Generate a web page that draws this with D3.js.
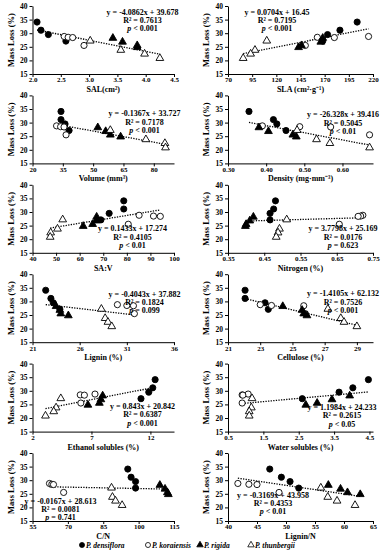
<!DOCTYPE html>
<html>
<head>
<meta charset="utf-8">
<script src="https://cdn.jsdelivr.net/npm/d3@7"></script>
<style>
body { margin: 0; background: #fff; }
svg text { font-family: "Liberation Serif", "Times New Roman", serif; font-weight: bold; fill: #000; }
</style>
</head>
<body>
<svg id="chart" width="390" height="550"></svg>
<script>
// species order for every value array: 4 x densiflora, 4 x koraiensis, 4 x rigida, 4 x thunbergii
var species = ["P. densiflora", "P. koraiensis", "P. rigida", "P. thunbergii"];
var massLoss = [34.1, 31.1, 29.5, 27.1, 28.8, 28.5, 28.4, 25.5, 28.2, 26.8, 25.5, 24.8, 27.2, 23.8, 22.4, 20.8];

var sal = [2.08, 2.15, 2.28, 2.59, 2.56, 2.63, 2.71, 2.91, 3.42, 3.59, 3.85, 3.85, 3.02, 3.56, 3.98, 4.25];
var sla = [203.6, 185.8, 173, 168, 215.4, 162.4, 180, 150, 168, 166, 146, 143, 110.1, 97.9, 93.4, 85.7];
var volume = [34.1, 34.1, 36.1, 38.1, 31.9, 33.9, 35.6, 36.6, 52.3, 56.2, 58.5, 63.6, 58.5, 76.1, 85.5, 85.8];
var density = [0.355, 0.419, 0.428, 0.452, 0.39, 0.488, 0.569, 0.671, 0.381, 0.406, 0.47, 0.479, 0.481, 0.532, 0.567, 0.671];
var saV = [78.7, 78.7, 72.5, 69, 85.2, 91.3, 94.2, 80.6, 67.2, 67, 65.5, 61.5, 52.8, 50.6, 47.7, 47.5];
var nitrogen = [0.481, 0.476, 0.466, 0.466, 0.722, 0.716, 0.709, 0.657, 0.42, 0.41, 0.40, 0.398, 0.512, 0.492, 0.488, 0.483];
var lignin = [22.4, 22.95, 23.2, 23.9, 30.0, 31.0, 31.7, 31.8, 23.5, 23.9, 24.0, 24.8, 28.3, 28.7, 29.0, 29.4];
var cellulose = [22.06, 22.06, 23.3, 23.5, 23.0, 23.7, 25.7, 25.8, 24.4, 25.6, 25.7, 25.9, 27.2, 28.0, 28.2, 29.0];
var ethanol = [12.4, 12.2, 11.86, 11.2, 7.3, 6.05, 6.4, 6.1, 7.95, 7.8, 7.67, 6.7, 4.4, 4.0, 3.8, 3.1];
var water = [4.47, 4.03, 3.64, 2.6, 1.07, 0.9, 0.92, 0.9, 3.94, 3.44, 3.02, 2.7, 1.18, 1.16, 1.1, 1.1];
var cn = [95.4, 96.8, 98.7, 98.7, 62.2, 63.2, 63.9, 68.2, 109, 111.2, 112.2, 112.6, 88.5, 88.9, 90.2, 93];
var ligninN = [47.2, 49.2, 50.7, 52.2, 41.7, 43.6, 45.0, 48.8, 57.3, 59.4, 60.6, 62.8, 56.0, 57.2, 58.8, 61.9];

var panelValues = [sal, sla, volume, density, saV, nitrogen, lignin, cellulose, ethanol, water, cn, ligninN];
var xTitles = ["SAL(cm\u00b2)", "SLA (cm\u00b2\u00b7g\u207b\u00b9)", "Volume (mm\u00b3)", "Density (mg\u00b7mm\u207b\u00b3)",
  "SA:V", "Nitrogen (%)", "Lignin (%)", "Cellulose (%)", "Ethanol solubles (%)", "Water solubles (%)", "C/N", "Lignin/N"];
var xDomains = [[2, 4.5], [70, 220], [20, 90], [0.3, 0.68], [40, 100], [0.35, 0.75],
  [21, 36], [21, 30], [2, 14], [0.5, 4.6], [55, 115], [40, 65]];
var xTicks = [[2.0, 2.5, 3.0, 3.5, 4.0, 4.5], [70, 95, 120, 145, 170, 195, 220], [20, 35, 50, 65, 80],
  [0.30, 0.40, 0.50, 0.60], [40, 50, 60, 70, 80, 90, 100], [0.35, 0.45, 0.55, 0.65, 0.75],
  [21, 26, 31, 36], [21, 23, 25, 27, 29], [2, 7, 12], [0.5, 1.5, 2.5, 3.5, 4.5], [55, 70, 85, 100, 115], [40, 45, 50, 55, 60, 65]];
var xFormats = [".1f", "d", "d", ".2f", "d", ".2f", "d", "d", "d", ".1f", "d", "d"];
var slopes = [-4.0862, 0.0704, -0.1367, -26.328, 0.1433, 3.7798, -0.4043, -1.4105, 0.843, 1.1984, -0.0167, -0.3169];
var intercepts = [39.678, 16.45, 33.727, 39.416, 17.274, 25.169, 37.882, 62.132, 20.842, 24.233, 28.613, 43.958];
var eqTexts = ["y = -4.0862x + 39.678", "y = 0.0704x + 16.45", "y = -0.1367x + 33.727", "y = -26.328x + 39.416",
  "y = 0.1433x + 17.274", "y = 3.7798x + 25.169", "y = -0.4043x + 37.882", "y = -1.4105x + 62.132",
  "y = 0.843x + 20.842", "y = 1.1984x + 24.233", "y = -0.0167x + 28.613", "y = -0.3169x + 43.958"];
var r2Texts = ["0.7613", "0.7195", "0.7178", "0.5045", "0.4105", "0.0176", "0.1824", "0.7526", "0.6387", "0.2615", "0.0081", "0.4353"];
var pTexts = ["< 0.001", "< 0.001", "< 0.001", "< 0.01", "< 0.01", "= 0.623", "= 0.099", "< 0.001", "< 0.001", "< 0.05", "= 0.741", "< 0.01"];
var yTicks = [15, 20, 25, 30, 35, 40];

// where the equation block sits, in panel-relative pixels (center x, first baseline y)
var eqPos = [[110, 8.5], [49, 8.5], [112, 21], [115, 22], [100, 46.5], [115, 46.5],
  [112, 22.5], [115, 22], [110, 45.5], [114, 46.5], [28, 50.5], [45, 44.5]];

var svg = d3.select("#chart");
var rowStep = 89.4;
var colX = [[32.5, 174], [228, 373]];

panelValues.forEach(function(vals, i) {
  var row = Math.floor(i / 2), col = i % 2;
  var top = 6 + rowStep * row, bottom = 74 + rowStep * row;
  var x0 = colX[col][0], x1 = colX[col][1];

  var x = d3.scaleLinear().domain(xDomains[i]).range([x0, x1]);
  var y = d3.scaleLinear().domain([15, 40]).range([bottom, top]);

  var g = svg.append("g");

  g.append("g")
    .attr("transform", "translate(0," + bottom + ")")
    .call(d3.axisBottom(x).tickValues(xTicks[i]).tickSize(3).tickPadding(0.5).tickSizeOuter(0).tickFormat(d3.format(xFormats[i])))
    .call(function(a) {
      a.selectAll("text").style("font-size", "7px");
      a.selectAll("line,path").attr("stroke", "#000");
    });

  g.append("g")
    .attr("transform", "translate(" + x0 + ",0)")
    .call(d3.axisLeft(y).tickValues(yTicks).tickSize(3).tickPadding(2).tickSizeOuter(0))
    .call(function(a) {
      a.selectAll("text").style("font-size", "7.5px");
      a.selectAll("line,path").attr("stroke", "#000");
    });

  g.append("text")
    .attr("x", (x0 + x1) / 2)
    .attr("y", bottom + 18)
    .attr("text-anchor", "middle")
    .style("font-size", "8px")
    .text(xTitles[i]);

  g.append("text")
    .attr("transform", "translate(" + (x0 - 19) + "," + ((top + bottom) / 2) + ") rotate(-90)")
    .attr("text-anchor", "middle")
    .style("font-size", "8.5px")
    .text("Mass Loss (%)");

  // trend line over the data range
  var ext = d3.extent(vals);
  var lineData = ext.map(function(v) { return [v, slopes[i] * v + intercepts[i]]; });
  g.append("path")
    .datum(lineData)
    .attr("d", d3.line().x(function(d) { return x(d[0]); }).y(function(d) { return y(d[1]); }))
    .attr("fill", "none")
    .attr("stroke", "#000")
    .attr("stroke-width", 1.3)
    .attr("stroke-dasharray", "1.3,1.3");

  var pts = vals.map(function(v, j) { return { x: v, y: massLoss[j], s: Math.floor(j / 4) }; });

  g.selectAll(".pt")
    .data(pts)
    .enter()
    .append("path")
    .attr("transform", function(d) { return "translate(" + x(d.x) + "," + y(d.y) + ")"; })
    .attr("d", function(d) {
      return d.s < 2 ? d3.symbol(d3.symbolCircle, 30)() : d3.symbol(d3.symbolTriangle, 26)();
    })
    .attr("fill", function(d) { return d.s % 2 === 0 ? "#000" : "#fff"; })
    .attr("stroke", "#000")
    .attr("stroke-width", 0.9);

  var ex = x0 + eqPos[i][0], ey = top + eqPos[i][1];
  var eq = g.append("g").style("font-size", "8px").attr("text-anchor", "middle");
  eq.append("text").attr("x", ex).attr("y", ey).text(eqTexts[i]);
  eq.append("text").attr("x", ex).attr("y", ey + 8.3).text("R\u00b2 = " + r2Texts[i]);
  var pt = eq.append("text").attr("x", ex).attr("y", ey + 16.6);
  pt.append("tspan").style("font-style", "italic").text("p");
  pt.append("tspan").text(" " + pTexts[i]);
});

// legend
var legendX = [82, 148, 200, 251];
var legend = svg.append("g");
species.forEach(function(name, s) {
  legend.append("path")
    .attr("transform", "translate(" + legendX[s] + ",545)")
    .attr("d", s < 2 ? d3.symbol(d3.symbolCircle, 20)() : d3.symbol(d3.symbolTriangle, 18)())
    .attr("fill", s % 2 === 0 ? "#000" : "#fff")
    .attr("stroke", "#000")
    .attr("stroke-width", 0.8);
  legend.append("text")
    .attr("x", legendX[s] + 4)
    .attr("y", 548)
    .style("font-size", "7.5px")
    .style("font-style", "italic")
    .text(name);
});
</script>
</body>
</html>
